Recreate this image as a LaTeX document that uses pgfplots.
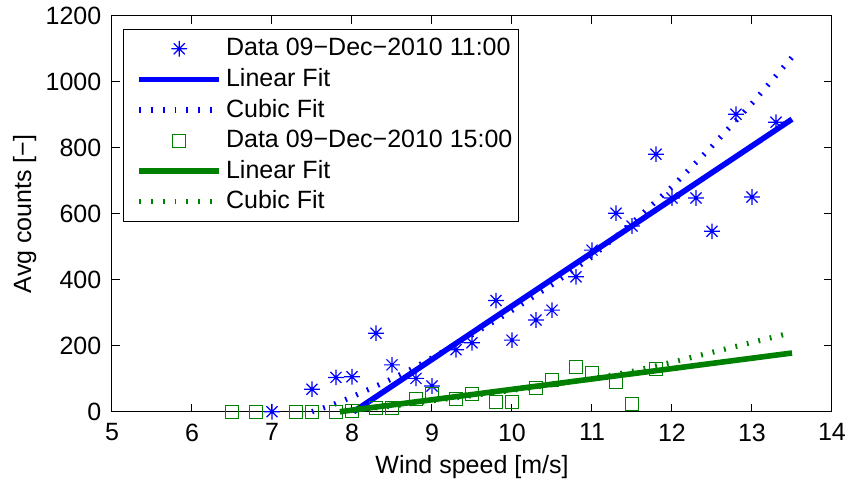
\documentclass[border=0pt]{standalone}
\usepackage{fontspec}
\setmainfont{Liberation Sans}
\usepackage{pgfplots}
\pgfplotsset{compat=1.18}
\definecolor{mblue}{rgb}{0,0,1}
\definecolor{mgreen}{rgb}{0,0.5,0}
\pgfdeclareplotmark{mstar}{%
  \pgfpathmoveto{\pgfqpoint{-\pgfplotmarksize}{0pt}}\pgfpathlineto{\pgfqpoint{\pgfplotmarksize}{0pt}}%
  \pgfpathmoveto{\pgfqpoint{0pt}{-\pgfplotmarksize}}\pgfpathlineto{\pgfqpoint{0pt}{\pgfplotmarksize}}%
  \pgfpathmoveto{\pgfqpoint{-.70710678\pgfplotmarksize}{-.70710678\pgfplotmarksize}}\pgfpathlineto{\pgfqpoint{.70710678\pgfplotmarksize}{.70710678\pgfplotmarksize}}%
  \pgfpathmoveto{\pgfqpoint{-.70710678\pgfplotmarksize}{.70710678\pgfplotmarksize}}\pgfpathlineto{\pgfqpoint{.70710678\pgfplotmarksize}{-.70710678\pgfplotmarksize}}%
  \pgfusepathqstroke}
\newcommand{\ff}{\fontsize{12.5bp}{15bp}\selectfont}
\begin{document}
\begin{tikzpicture}
\begin{axis}[
  at={(0,0)}, anchor=south west,
  scale only axis, width=360bp, height=197.85bp,
  xmin=5, xmax=14, ymin=0, ymax=1200,
  xtick={5,6,...,14}, ytick={0,200,...,1200},
  font=\ff,
  /pgf/number format/assume math mode=true,
  /pgf/number format/1000 sep={},
  axis line style={black, line width=0.5bp},
  every tick/.style={black, line width=0.5bp},
  major tick length=3.8bp,
  tick align=inside,
  xticklabel style={font=\ff, inner sep=0pt, anchor=north, yshift=-5.8bp},
  yticklabel style={font=\ff, inner sep=0pt, anchor=east, xshift=-5.15bp},
  xlabel={Wind speed [m/s]},
  ylabel={Avg counts [−]},
  xlabel style={font=\ff, at={(axis description cs:0.5,-0.1574)}, anchor=base},
  ylabel style={font=\ff, at={(axis description cs:-0.1122,0.5)}, anchor=base},
  clip=false,
  legend cell align=left,
  legend image code/.code={\path (0bp,0bp); \draw[mark repeat=2,mark phase=2,#1] plot coordinates {(5.5bp,0bp) (25.5bp,0bp) (45.5bp,0bp)};},
  legend style={font=\ff, at={(axis description cs:0.01528,0.96715)}, anchor=north west,
    draw=black, line width=0.5bp, fill=white, inner xsep=1bp, inner ysep=2bp,
    column sep=0pt, row sep=0pt,
    nodes={inner sep=2bp, text height=9.2bp, text depth=2.1bp}},
]
% Data 1
\addplot[only marks, mark=mstar, mark size=3.9bp, mblue, line width=0.6bp] coordinates {
(7.0,0) (7.5,68) (7.8,104) (8.0,106) (8.3,238) (8.5,142) (8.8,101) (9.0,78)
(9.3,188) (9.5,209) (9.8,337) (10.0,217) (10.3,278) (10.5,308) (10.8,409) (11.0,490)
(11.3,602) (11.5,563) (11.8,781) (12.0,648) (12.3,648) (12.5,547) (12.8,902) (13.0,651) (13.3,878)
};
\addlegendentry{Data 09−Dec−2010 11:00}
\addplot[mblue, line width=2.8bp] coordinates {(8.02,0) (13.5,887)};
\addlegendentry{Linear Fit}
\addplot[mblue, line width=2.6bp, dash pattern=on 0.9bp off 5bp] coordinates {
(7.5,0) (7.75,20) (8.0,45) (8.25,72) (8.5,100) (8.75,130) (9.0,163) (9.5,233)
(10.0,307) (10.5,385) (11.0,470) (11.5,572) (12.0,682) (12.5,805) (13.0,935) (13.5,1075)
};
\addlegendentry{Cubic Fit}
% Data 2
\addplot[only marks, mark=square, mark size=3.25bp, mgreen, line width=0.5bp] coordinates {
(6.5,0) (6.8,0) (7.3,0) (7.5,0) (7.8,0) (8.0,2) (8.3,11) (8.5,11) (8.8,38) (9.0,54)
(9.3,38) (9.5,54) (9.8,30) (10.0,30) (10.3,72) (10.5,96) (10.8,136) (11.0,117)
(11.3,91) (11.5,23) (11.8,129)
};
\addlegendentry{Data 09−Dec−2010 15:00}
\addplot[mgreen, line width=2.8bp] coordinates {(7.85,0) (13.5,178)};
\addlegendentry{Linear Fit}
\addplot[mgreen, line width=2.6bp, dash pattern=on 0.9bp off 5bp] coordinates {
(7.85,0) (8.5,17) (9.0,33) (9.5,49) (10.0,65) (10.5,82) (11.0,100) (11.5,122)
(12.0,150) (12.5,180) (13.0,210) (13.5,240)
};
\addlegendentry{Cubic Fit}
\end{axis}
\pgfresetboundingbox
\path (-56bp,-35.15bp) rectangle (369bp,205.85bp);
\end{tikzpicture}
\end{document}
